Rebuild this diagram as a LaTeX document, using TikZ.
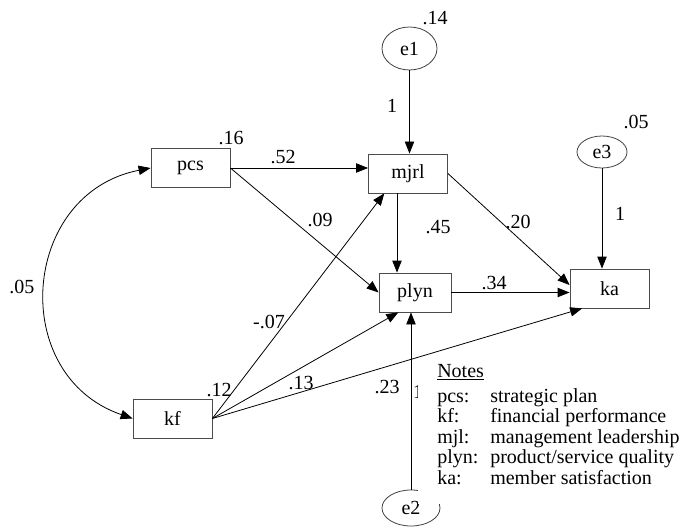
\documentclass[tikz,border=0pt]{standalone}
\usepackage{fontspec}
\setmainfont{Liberation Serif}
\usepackage{tikz}
\usetikzlibrary{arrows.meta,shapes.geometric}

\tikzset{
  var/.style={draw=black!70, line width=0.6pt, minimum width=59.25pt, minimum height=29.25pt, inner sep=0pt},
  err/.style={ellipse, draw=black!75, line width=0.6pt, inner sep=0pt},
  reg/.style={line width=0.6pt, -{Triangle[length=9pt,width=7pt]}},
  cov/.style={line width=0.6pt, {Triangle[length=9pt,width=7pt]}-{Triangle[length=9pt,width=7pt]}},
  lbl/.style={inner sep=0pt}
}

\begin{document}
\begin{tikzpicture}[x=0.75pt, y=0.75pt, font=\fontsize{15pt}{18pt}\selectfont]
                \useasboundingbox (0,0) rectangle (681,-527);
                % observed variables
                \node[var] (pcs) at (190.5,-168) {pcs};
                \node[var] (mjrl) at (408,-173.5) {mjrl};
                \node[var, minimum width=54pt] (plyn) at (415,-292.5) {plyn};
                \node[var] (ka) at (609.5,-288.5) {ka};
                \node[var] (kf) at (172.5,-418.5) {kf};
                % error terms
                \node[err, minimum width=41.25pt, minimum height=32.25pt] (e1) at (409.5,-48.5) {e1};
                \node[err, minimum width=37.5pt, minimum height=24pt] (e3) at (602,-152) {e3};
                \node[err, minimum width=43.5pt, minimum height=27pt] (e2) at (411,-508) {e2};
                % paths
                \draw[reg] (e1.south) -- (e1.south |- mjrl.north);
                \draw[reg] (e3.south) -- (e3.south |- ka.north);
                \draw[reg] (e2.north) -- (e2.north |- plyn.south);
                \draw[reg] (pcs.east) -- (pcs.east -| mjrl.west);
                \draw[reg] (pcs.east) -- (plyn.west);
                \draw[reg] ([xshift=-8.25pt]mjrl.south) -- ([xshift=-8.25pt]mjrl.south |- plyn.north);
                \draw[reg] (mjrl.east) -- (ka.175);
                \draw[reg] (plyn.east) -- (plyn.east -| ka.west);
                \draw[reg] (kf.east) -- (mjrl.220);
                \draw[reg] (kf.east) -- (plyn.230);
                \draw[reg] (kf.east) -- (ka.216);
                \draw[cov] (pcs.west) to[out=191, in=161, looseness=1.35] (kf.west);
                % estimates
                \node[lbl] (v14) at (435,-18) {.14};
                \node[lbl] (v16) at (231,-138) {.16};
                \node[lbl] (v05e) at (636,-122) {.05};
                \node[lbl] (v12) at (219,-390) {.12};
                \node[lbl] (w52) at (283,-157) {.52};
                \node[lbl] (w09) at (320,-220) {.09};
                \node[lbl] (w1a) at (392,-106) {1};
                \node[lbl] (w45) at (438,-227) {.45};
                \node[lbl] (w20) at (518,-222) {.20};
                \node[lbl] (w34) at (494,-283) {.34};
                \node[lbl] (w1c) at (620,-214) {1};
                \node[lbl] (c05) at (22,-287) {.05};
                \node[lbl] (w07) at (269,-322) {-.07};
                \node[lbl] (w13) at (301,-383) {.13};
                \node[lbl] (w23) at (387,-387) {.23};
                \node[lbl] (w1b) at (418,-392) {1};
                % notes
                \fill[white] (418,-362) rectangle (681,-504);
                \node[lbl, anchor=base west] (notes) at (437,-377) {\underline{Notes}};
                \node[lbl, anchor=base west] (n1) at (437,-402) {pcs:};
                \node[lbl, anchor=base west] (d1) at (490,-402) {strategic plan};
                \node[lbl, anchor=base west] (n2) at (437,-422.6) {kf:};
                \node[lbl, anchor=base west] (d2) at (490,-422.6) {financial performance};
                \node[lbl, anchor=base west] (n3) at (437,-443.2) {mjl:};
                \node[lbl, anchor=base west] (d3) at (490,-443.2) {management leadership};
                \node[lbl, anchor=base west] (n4) at (437,-463.8) {plyn:};
                \node[lbl, anchor=base west] (d4) at (490,-463.8) {product/service quality};
                \node[lbl, anchor=base west] (n5) at (437,-484.4) {ka:};
                \node[lbl, anchor=base west] (d5) at (490,-484.4) {member satisfaction};
            \end{tikzpicture}
\end{document}
